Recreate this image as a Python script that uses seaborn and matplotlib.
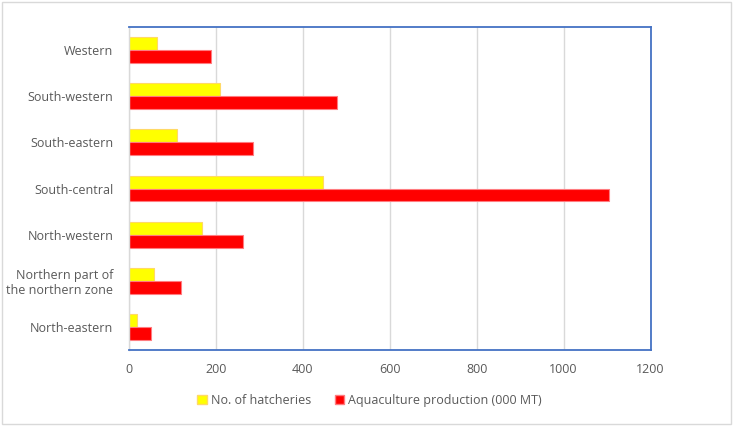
import matplotlib
matplotlib.use("Agg")
import matplotlib.pyplot as plt
import seaborn as sns
import pandas as pd
from matplotlib.patches import Rectangle, Patch

regions = ["Western", "South-western", "South-eastern", "South-central",
           "North-western", "Northern part of\nthe northern zone", "North-eastern"]
hatcheries = [66, 210, 111, 446, 169, 57, 19]
production = [189, 478, 286, 1104, 262, 120, 52]
series_names = ["No. of hatcheries", "Aquaculture production (000 MT)"]
x_ticks = [0, 200, 400, 600, 800, 1000, 1200]

df = pd.DataFrame({
    "region": regions * 2,
    "value": hatcheries + production,
    "series": [series_names[0]] * len(regions) + [series_names[1]] * len(regions),
})

sns.set_theme(style="white")
plt.rcParams["font.family"] = ["Open Sans", "DejaVu Sans"]

fig = plt.figure(figsize=(7.33, 4.26), dpi=100)
ax = fig.add_axes([0.1756, 0.178, 0.712, 0.759])

colors = ["#FFFF00", "#FF0000"]
edges = ["#FFD966", "#FF7C80"]
sns.barplot(data=df, y="region", x="value", hue="series", order=regions,
            hue_order=series_names, palette=colors, orient="h", width=0.56,
            gap=0, ax=ax, legend=False, saturation=1)

for i, container in enumerate(ax.containers):
    for bar in container:
        bar.set_edgecolor(edges[i])
        bar.set_linewidth(0.8)

ax.set_xlim(0, 1200)
ax.set_xticks(x_ticks)
ax.set_xticklabels([str(t) for t in x_ticks])
ax.set_ylim(len(regions) - 0.5, -0.5)
ax.set_xlabel("")
ax.set_ylabel("")
ax.xaxis.grid(True, color="#D9D9D9", linewidth=1)
ax.set_axisbelow(True)
ax.tick_params(axis="both", length=0, labelsize=9, labelcolor="#595959")
ax.tick_params(axis="x", pad=9)
ax.tick_params(axis="y", pad=11)
for lbl in ax.get_yticklabels():
    lbl.set_horizontalalignment("right")

for side in ["top", "right", "bottom"]:
    ax.spines[side].set_color("#4472C4")
    ax.spines[side].set_linewidth(1.3)
ax.spines["left"].set_color("#D9D9D9")
ax.spines["left"].set_linewidth(1)

handles = [Patch(facecolor=colors[i], edgecolor=edges[i], label=series_names[i]) for i in range(2)]
leg = fig.legend(handles=handles, loc="center", bbox_to_anchor=(0.504, 0.06), ncol=2,
                 frameon=False, fontsize=9, handlelength=0.75, handleheight=0.75,
                 handletextpad=0.3, columnspacing=1.9)
for t in leg.get_texts():
    t.set_color("#595959")

fig.patches.append(Rectangle((0.003, 0.005), 0.994, 0.99, transform=fig.transFigure,
                             fill=False, edgecolor="#D9D9D9", linewidth=1))

fig.savefig("out.png", dpi=100)
